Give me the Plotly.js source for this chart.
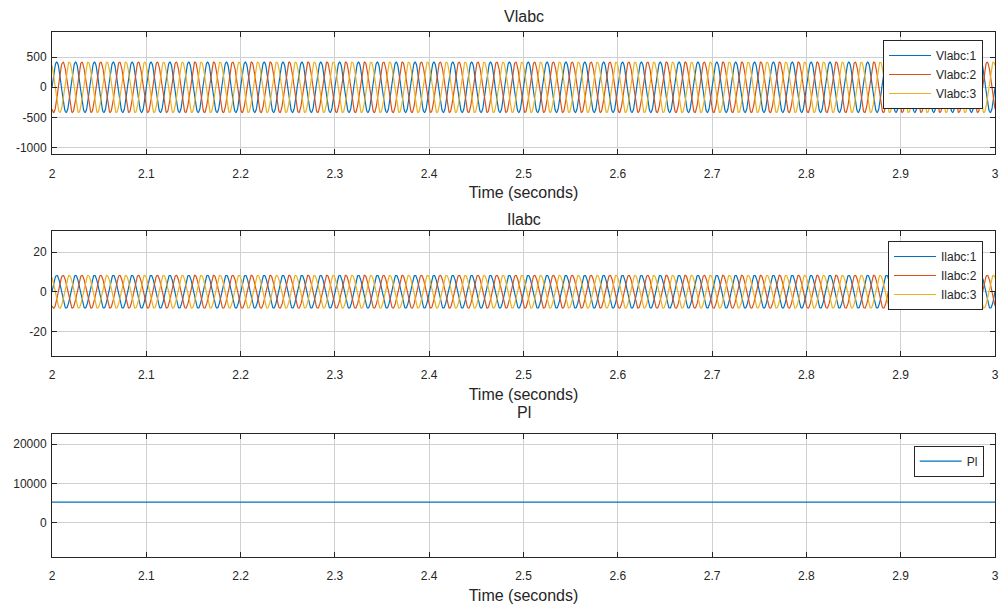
<!DOCTYPE html>
<html>
<head>
<meta charset="utf-8">
<script src="https://cdn.plot.ly/plotly-3.0.1.min.js"></script>
<style>html,body{margin:0;padding:0;background:#fff;}#chart{width:1000px;height:606px;}</style>
</head>
<body>
<div id="chart"></div>
<script>
// ---- values ----
const timeStart = 2;
const timeEnd = 3;
const gridFreqHz = 50;                 // ~5 cycles per 0.1 s
const voltagePeak = [420, 420, 420];   // Vlabc:1..3 peak (V)
const currentPeak = [8.3, 8.3, 8.3];   // Ilabc:1..3 peak (A)
const phaseDeg = [0, -120, 120];       // phase of each line
const voltageNames = ["Vlabc:1", "Vlabc:2", "Vlabc:3"];
const currentNames = ["Ilabc:1", "Ilabc:2", "Ilabc:3"];
const powerName = "Pl";
const phaseColors = ["#0072BD", "#D95319", "#EDB120"];

const xTickVals = [2, 2.1, 2.2, 2.3, 2.4, 2.5, 2.6, 2.7, 2.8, 2.9, 3];
const xTickText = ["2", "2.1", "2.2", "2.3", "2.4", "2.5", "2.6", "2.7", "2.8", "2.9", "3"];
const vTickVals = [-1000, -500, 0, 500];
const vTickText = ["-1000", "-500", "0", "500"];
const iTickVals = [-20, 0, 20];
const iTickText = ["-20", "0", "20"];
const pTickVals = [0, 10000, 20000];
const pTickText = ["0", "10000", "20000"];

// ---- sampled waveforms ----
const samplesPerCycle = 40;
const nSamples = Math.round((timeEnd - timeStart) * gridFreqHz * samplesPerCycle) + 1;
const t = [];
for (let k = 0; k < nSamples; k++) t.push(timeStart + k * (timeEnd - timeStart) / (nSamples - 1));
function wave(peak, ph) {
  return t.map(tt => peak * Math.sin(2 * Math.PI * gridFreqHz * tt + ph * Math.PI / 180));
}
const vWaves = phaseDeg.map((p, i) => wave(voltagePeak[i], p));
const iWaves = phaseDeg.map((p, i) => wave(currentPeak[i], p));
const pWave = t.map((_, k) => vWaves[0][k] * iWaves[0][k] + vWaves[1][k] * iWaves[1][k] + vWaves[2][k] * iWaves[2][k]);

const traces = [];
for (let i = 0; i < 3; i++) {
  traces.push({x: t, y: vWaves[i], name: voltageNames[i], type: 'scatter', mode: 'lines',
    line: {color: phaseColors[i], width: 1.2}, xaxis: 'x', yaxis: 'y', legend: 'legend'});
}
for (let i = 0; i < 3; i++) {
  traces.push({x: t, y: iWaves[i], name: currentNames[i], type: 'scatter', mode: 'lines',
    line: {color: phaseColors[i], width: 1.2}, xaxis: 'x2', yaxis: 'y2', legend: 'legend2'});
}
traces.push({x: t, y: pWave, name: powerName, type: 'scatter', mode: 'lines',
  line: {color: phaseColors[0], width: 1.3}, xaxis: 'x3', yaxis: 'y3', legend: 'legend3'});

const FONT = 'Liberation Sans, Arial, Helvetica, sans-serif';
const TXT = '#262626';
const axisCommon = {
  showline: true, linecolor: TXT, linewidth: 1, mirror: 'ticks',
  ticks: 'inside', ticklen: 5, tickcolor: TXT,
  showgrid: true, gridcolor: '#d0d0d0', gridwidth: 1, zeroline: false,
  tickfont: {family: FONT, size: 12, color: TXT}, fixedrange: true
};
function xAx(anchor) {
  return Object.assign({}, axisCommon, {
    anchor: anchor, domain: [0, 1], range: [timeStart, timeEnd],
    tickmode: 'array', tickvals: xTickVals, ticktext: xTickText, ticklabelstandoff: 8,
    title: {text: 'Time (seconds)', font: {family: FONT, size: 16, color: TXT}, standoff: 7}
  });
}
function yAx(anchor, dom, rng, tv, tt) {
  return Object.assign({}, axisCommon, {
    anchor: anchor, domain: dom, range: rng, tickmode: 'array', tickvals: tv, ticktext: tt,
    ticklabelstandoff: 2
  });
}
function legendAt(x, y) {
  return {x: x, y: y, xanchor: 'right', yanchor: 'top', bgcolor: '#ffffff',
    bordercolor: TXT, borderwidth: 1, font: {family: FONT, size: 12, color: TXT},
    tracegroupgap: 0, itemwidth: 42};
}
function subTitle(text, y) {
  return {text: text, xref: 'paper', yref: 'paper', x: 0.5, y: y, showarrow: false,
    xanchor: 'center', yanchor: 'middle', font: {family: FONT, size: 16, color: TXT}};
}

const layout = {
  width: 1000, height: 606,
  margin: {l: 52, r: 5, t: 0, b: 0},
  paper_bgcolor: '#ffffff', plot_bgcolor: '#ffffff',
  showlegend: true,
  xaxis: xAx('y'), yaxis: yAx('x', [0.7454, 0.9477], [-1115, 925], vTickVals, vTickText),
  xaxis2: xAx('y2'), yaxis2: yAx('x2', [0.4125, 0.6188], [-32.5, 30.7], iTickVals, iTickText),
  xaxis3: xAx('y3'), yaxis3: yAx('x3', [0.0814, 0.2833], [-8700, 22500], pTickVals, pTickText),
  legend: legendAt(0.9873, 0.934),
  legend2: legendAt(0.9873, 0.6023),
  legend3: legendAt(0.988, 0.2645),
  annotations: [
    subTitle('Vlabc', 0.972),
    subTitle('Ilabc', 0.637),
    subTitle('Pl', 0.3201)
  ]
};

Plotly.newPlot('chart', traces, layout, {displayModeBar: false, staticPlot: true});
</script>
</body>
</html>
